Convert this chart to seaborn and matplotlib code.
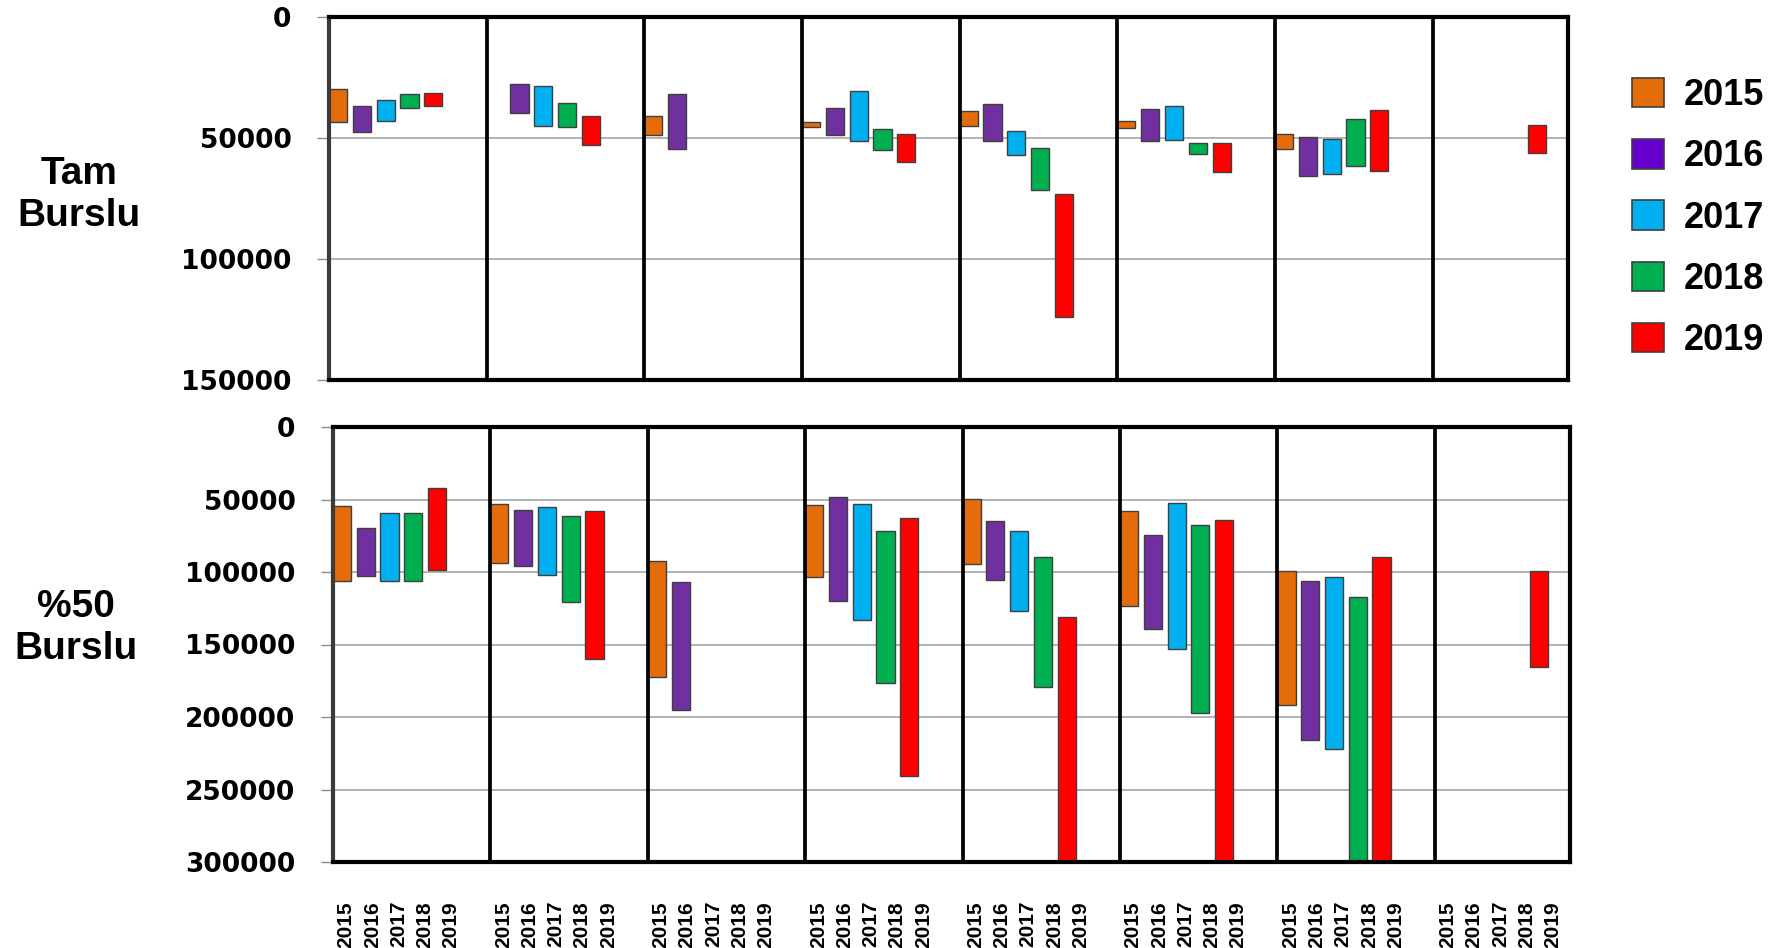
import matplotlib
matplotlib.use("Agg")
import matplotlib.pyplot as plt
from matplotlib.patches import Patch
import seaborn as sns

# +
years = ["2015", "2016", "2017", "2018", "2019"]
bar_colors = ["#E46C0A", "#7030A0", "#00B0F0", "#00B050", "#FF0000"]
legend_colors = ["#E46C0A", "#6600CC", "#00B0F0", "#00B050", "#FF0000"]
row_labels = ["Tam\nBurslu", "%50\nBurslu"]
n_groups = 8

# Tam Burslu: (baslangic, bitis) siralamasi, her grup icin bir deger, None = bar yok
tam_2015 = [(29700, 43400), None, (40900, 48800), (43400, 45500), (38700, 45000), (43000, 46000), (48200, 54500), None]
tam_2016 = [(36600, 47700), (27500, 39800), (31900, 54500), (37700, 48800), (36100, 51400), (38100, 51400), (49700, 65600), None]
tam_2017 = [(34400, 42800), (28500, 45000), None, (30700, 51400), (47200, 57200), (36600, 50800), (50300, 65000), None]
tam_2018 = [(31800, 37600), (35500, 45600), None, (46100, 55100), (54000, 71500), (52100, 56600), (42300, 61400), None]
tam_2019 = [(31300, 36600), (40900, 53000), None, (48200, 59900), (73100, 123800), (52100, 64000), (38600, 63500), (44500, 56200)]

# %50 Burslu
yari_2015 = [(54700, 106200), (53100, 94000), (92600, 172600), (54000, 103200), (49700, 94700), (58200, 123200), (99500, 191900), None]
yari_2016 = [(69400, 102500), (57000, 95600), (107100, 195400), (48500, 120000), (65100, 105300), (74500, 139500), (106200, 216100), None]
yari_2017 = [(59100, 106200), (55400, 101900), None, (53100, 132900), (71900, 126700), (52400, 153300), (103500, 222100), None]
yari_2018 = [(59100, 106200), (61600, 120700), None, (71900, 176600), (89900, 179100), (67600, 197000), (117500, 300000), None]
yari_2019 = [(41800, 98400), (57900, 160000), None, (62500, 240900), (131300, 300000), (63900, 300000), (89700, 300000), (99500, 165300)]

tam = [tam_2015, tam_2016, tam_2017, tam_2018, tam_2019]
yari = [yari_2015, yari_2016, yari_2017, yari_2018, yari_2019]
# -

sns.set_theme(style="white")
plt.rcParams["font.family"] = ["Liberation Sans", "DejaVu Sans"]
plt.rcParams["text.color"] = "black"
plt.rcParams["xtick.color"] = "black"
plt.rcParams["ytick.color"] = "black"

W, H = 1777, 948
fig = plt.figure(figsize=(W / 100, H / 100), dpi=100)


def px_axes(left, top, right, bottom):
    return fig.add_axes([left / W, 1 - bottom / H, (right - left) / W, (bottom - top) / H])


def draw_panel(ax, series, ymax):
    pal = sns.color_palette(bar_colors)
    for i, vals in enumerate(series):
        xs, lows, heights = [], [], []
        for g, v in enumerate(vals):
            if v is None:
                continue
            xs.append(g * 6 + 0.343 + i * 0.906)
            lows.append(v[0])
            heights.append(v[1] - v[0])
        ax.bar(xs, heights, bottom=lows, width=0.69, color=pal[i],
               edgecolor="#3f3f3f", linewidth=1.0, zorder=2)
    ax.set_xlim(0, 47.15)
    ax.set_ylim(ymax, 0)
    ax.set_yticks(range(0, ymax + 1, 50000))
    ax.set_yticklabels([str(v) for v in range(0, ymax + 1, 50000)],
                       fontfamily="DejaVu Sans", fontweight="bold", fontsize=19)
    ax.yaxis.grid(True, color="#a6a6a6", linewidth=1.2)
    ax.set_axisbelow(True)
    ax.tick_params(axis="y", left=True, length=9, width=1, color="#8c8c8c",
                   labelcolor="black", pad=18)
    for g in range(1, n_groups):
        ax.axvline(g * 6, color="black", linewidth=2.7, zorder=3)
    for side in ["top", "right", "bottom"]:
        ax.spines[side].set_color("black")
        ax.spines[side].set_linewidth(3)
    ax.spines["left"].set_color("#3a3a3a")
    ax.spines["left"].set_linewidth(3)
    for sp in ax.spines.values():
        sp.set_zorder(4)


ax_top = px_axes(329, 17, 1568, 380)
draw_panel(ax_top, tam, 150000)
ax_top.set_xticks([])

ax_bot = px_axes(333, 427, 1570, 862)
draw_panel(ax_bot, yari, 300000)
xt = [g * 6 + i + 0.5 for g in range(n_groups) for i in range(len(years))]
ax_bot.set_xticks(xt)
ax_bot.set_xticklabels(years * n_groups, rotation=90, fontweight="bold", fontsize=15)
ax_bot.tick_params(axis="x", bottom=False, length=0, pad=28, labelcolor="black")

fig.text(79 / W, 1 - 195 / H, row_labels[0], ha="center", va="center",
         fontsize=28, fontweight="bold", linespacing=1.2, color="black")
fig.text(76 / W, 1 - 628 / H, row_labels[1], ha="center", va="center",
         fontsize=28, fontweight="bold", linespacing=1.2, color="black")

handles = [Patch(facecolor=c, edgecolor="#3f3f3f", linewidth=1.2) for c in legend_colors]
fig.legend(handles, years, loc="center left", bbox_to_anchor=(1632 / W, 1 - 218 / H),
           frameon=False, borderpad=0, borderaxespad=0, handlelength=0.88,
           handleheight=0.88, handletextpad=0.55, labelspacing=0.72,
           prop={"weight": "bold", "size": 26})

fig.savefig("out.png", dpi=100)
